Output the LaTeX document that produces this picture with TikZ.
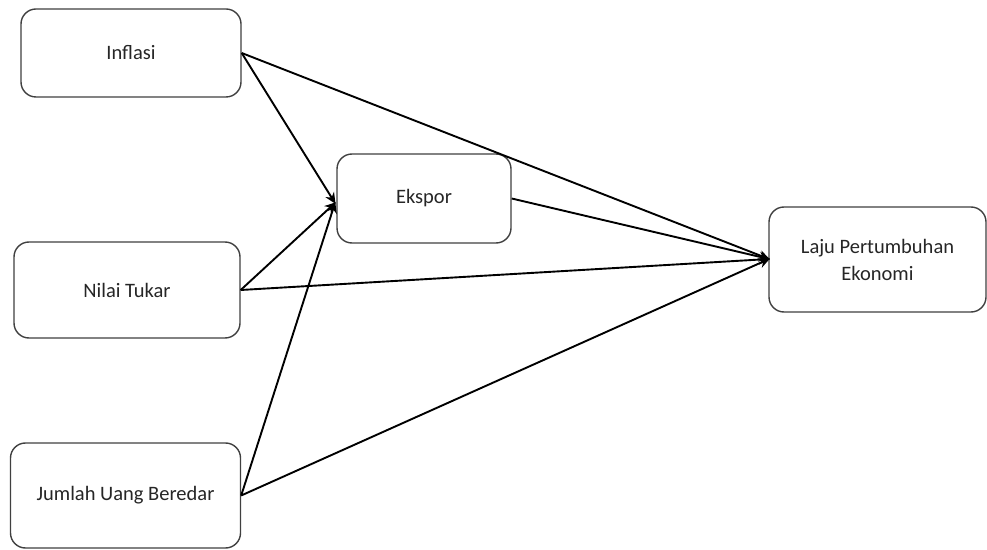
\documentclass[tikz,border=0pt]{standalone}
\usepackage{fontspec}
\setmainfont{Carlito}
\usetikzlibrary{arrows.meta}
\definecolor{boxline}{HTML}{404040}
\definecolor{txt}{HTML}{262626}
\tikzset{
  box/.style={draw=boxline, line width=1.4bp, rounded corners=15bp, fill=white,
    inner sep=0pt, align=center, text=txt, font=\fontsize{20.5bp}{27bp}\selectfont},
  conn/.style={line width=1.9bp, black, -{Stealth[length=11bp,width=10bp]}, shorten >=-1bp}
}
\begin{document}
\begin{tikzpicture}[x=1bp,y=-1bp]
\useasboundingbox (0,0) rectangle (987,550);
\node[box, minimum width=220bp, minimum height=88bp] (inf) at (131,53) {Inflasi};
\node[box, minimum width=226bp, minimum height=96bp] (nt) at (127,290) {Nilai Tukar};
\node[box, minimum width=230bp, minimum height=105bp] (jub) at (125.5,495.5) {Jumlah Uang Beredar};
\node[box, minimum width=174bp, minimum height=89bp] (eks) at (424,198.5) {Ekspor};
\node[box, minimum width=217bp, minimum height=105bp] (lpe) at (877.5,259.5) {Laju Pertumbuhan\\Ekonomi};
\coordinate (ein) at (335,203);
\coordinate (lin) at (769,259);
\draw[conn] (inf.east) -- (ein);
\draw[conn] (nt.east) -- (ein);
\draw[conn] (jub.east) -- (ein);
\draw[conn] (inf.east) -- (lin);
\draw[conn] (nt.east) -- (lin);
\draw[conn] (jub.east) -- (lin);
\draw[conn] (eks.east) -- (lin);
\end{tikzpicture}
\end{document}
